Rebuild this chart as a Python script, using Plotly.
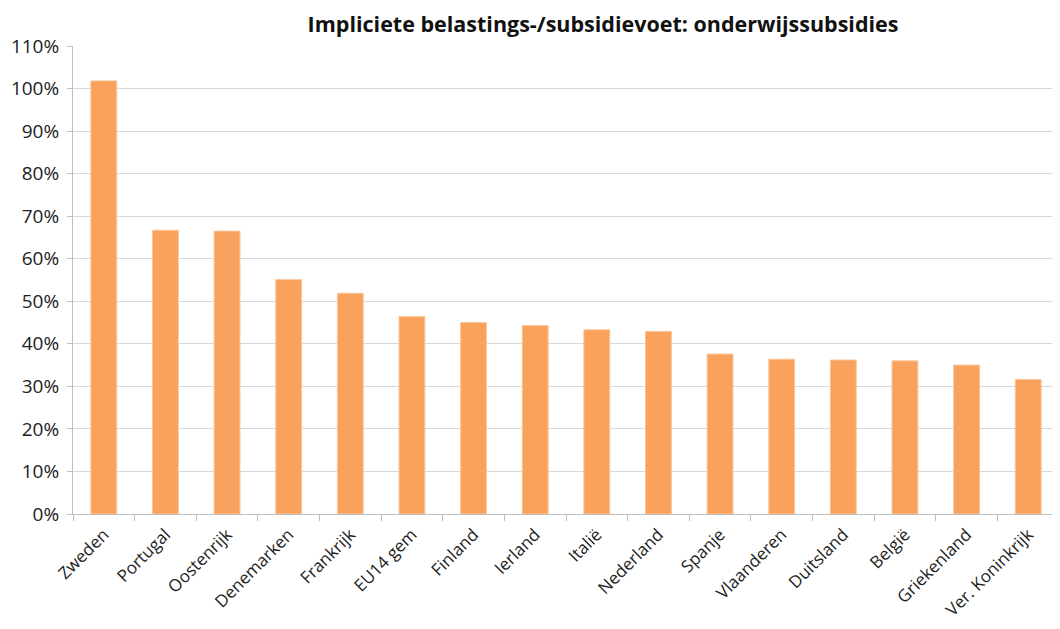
import plotly.graph_objects as go

categories = ["Zweden", "Portugal", "Oostenrijk", "Denemarken", "Frankrijk", "EU14 gem",
              "Finland", "Ierland", "Italië", "Nederland", "Spanje", "Vlaanderen",
              "Duitsland", "België", "Griekenland", "Ver. Koninkrijk"]
values = [1.018, 0.667, 0.665, 0.551, 0.519, 0.464, 0.450, 0.443, 0.433, 0.429,
          0.376, 0.364, 0.362, 0.360, 0.350, 0.316]
y_ticks = [i / 10 for i in range(12)]
title_text = "Impliciete belastings-/subsidievoet: onderwijssubsidies"

font_family = "Open Sans, Lato, sans-serif"

fig = go.Figure(go.Bar(
    x=categories, y=values,
    marker=dict(color="#F8A25E", line=dict(color="#FBC79A", width=1)),
    width=0.42,
))

# page body has an 8px default margin, so the figure is sized/offset to compensate
fig.update_layout(
    width=1052, height=621,
    margin=dict(l=65, r=1, t=38, b=115, autoexpand=False),
    paper_bgcolor="white", plot_bgcolor="white",
    title=dict(text=title_text, x=0.5656, xanchor="center", y=0.974, yanchor="middle",
               font=dict(family=font_family, size=21.5, color="#111111", weight="bold")),
    showlegend=False,
    font=dict(family=font_family, color="#222222"),
)
fig.update_xaxes(
    type="category", showline=True, linecolor="#BFBFBF", linewidth=1,
    ticks="outside", tickson="boundaries", ticklen=6, tickcolor="#BFBFBF",
    tickangle=-45, ticklabelstandoff=3,
    tickfont=dict(size=17, family=font_family, color="#222222"),
    showgrid=False, automargin=False,
)
fig.update_yaxes(
    range=[0, 1.1], tickvals=y_ticks, tickformat=".0%",
    showgrid=True, gridcolor="#D9D9D9", gridwidth=1,
    showline=True, linecolor="#BFBFBF", linewidth=1,
    ticks="outside", ticklen=5, tickcolor="#BFBFBF", ticklabelstandoff=4,
    tickfont=dict(size=19, family=font_family, color="#222222"),
    zeroline=False, automargin=False,
)

fig.write_html("out.html")
